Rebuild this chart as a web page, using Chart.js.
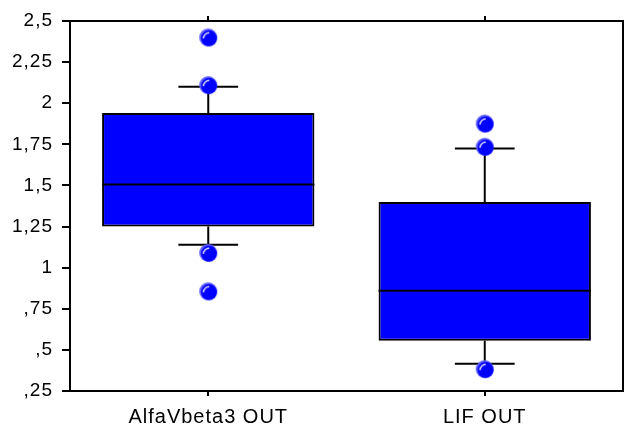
<!DOCTYPE html>
<html>
<head>
<meta charset="utf-8">
<script src="https://cdn.jsdelivr.net/npm/chart.js@4.4.1/dist/chart.umd.min.js"></script>
<style>
  html, body { margin: 0; padding: 0; background: #ffffff; }
  #wrap { width: 625px; height: 427px; }
</style>
</head>
<body>
<div id="wrap"><canvas id="chart" width="625" height="427"></canvas></div>
<script>
// Groups on the x axis
const categories = ['AlfaVbeta3 OUT', 'LIF OUT'];

// Box statistics per group
const q1 = [1.25, 0.555];
const q3 = [1.94, 1.40];
const medians = [1.505, 0.86];
const whiskerLow = [1.14, 0.415];
const whiskerHigh = [2.10, 1.725];

// Outlying observations per group
const outliersAlfa = [2.40, 2.11, 1.09, 0.856];
const outliersLif = [1.876, 1.735, 0.383];

// Y axis range and step
const yMin = 0.25;
const yMax = 2.5;
const yStep = 0.25;

const BLUE = '#0000ff';

// Shaded ball marker for the outliers
function makeBall(r) {
  const size = r * 2 + 4;
  const c = document.createElement('canvas');
  c.width = size; c.height = size;
  const g = c.getContext('2d');
  const cx = size / 2, cy = size / 2;
  g.beginPath();
  g.arc(cx, cy, r, 0, Math.PI * 2);
  g.fillStyle = '#5c5cff';
  g.fill();
  g.beginPath();
  g.arc(cx + 0.8, cy + 0.8, r - 1, 0, Math.PI * 2);
  g.fillStyle = BLUE;
  g.fill();
  g.beginPath();
  g.arc(cx + 1, cy + 1, r - 3.2, Math.PI * 1.0, Math.PI * 1.5);
  g.strokeStyle = 'rgba(255,255,255,0.9)';
  g.lineWidth = 1.4;
  g.stroke();
  return c;
}
const ball = makeBall(9);

const outlierPoints = [];
outliersAlfa.forEach(v => outlierPoints.push({ x: categories[0], y: v }));
outliersLif.forEach(v => outlierPoints.push({ x: categories[1], y: v }));

function fmtTick(v) {
  let s = (Math.round(v * 100) / 100).toString();
  if (s.startsWith('0.')) s = s.slice(1);
  return s.replace('.', ',');
}

// Whiskers, caps and median lines drawn right after the boxes
const boxExtras = {
  id: 'boxExtras',
  afterDatasetDraw(chart, args) {
    if (args.index !== 0) return;
    const ctx = chart.ctx;
    const xs = chart.scales.x, ys = chart.scales.y;
    const meta = chart.getDatasetMeta(0);
    ctx.save();
    ctx.strokeStyle = '#000';
    ctx.lineWidth = 2;
    categories.forEach((c, i) => {
      const x = xs.getPixelForValue(i);
      const bar = meta.data[i];
      const half = bar.width / 2;
      const capHalf = xs.width / categories.length * 0.108;
      const yHi = ys.getPixelForValue(whiskerHigh[i]);
      const yLo = ys.getPixelForValue(whiskerLow[i]);
      const yQ3 = ys.getPixelForValue(q3[i]);
      const yQ1 = ys.getPixelForValue(q1[i]);
      const yMed = ys.getPixelForValue(medians[i]);
      ctx.beginPath();
      ctx.moveTo(x, yQ3); ctx.lineTo(x, yHi);
      ctx.moveTo(x - capHalf, yHi); ctx.lineTo(x + capHalf, yHi);
      ctx.moveTo(x, yQ1); ctx.lineTo(x, yLo);
      ctx.moveTo(x - capHalf, yLo); ctx.lineTo(x + capHalf, yLo);
      ctx.moveTo(x - half, yMed); ctx.lineTo(x + half, yMed);
      ctx.stroke();
    });
    ctx.restore();
  },
  afterDraw(chart) {
    const a = chart.chartArea;
    const ctx = chart.ctx;
    ctx.save();
    ctx.strokeStyle = '#000';
    ctx.lineWidth = 2;
    ctx.strokeRect(a.left, a.top, a.right - a.left, a.bottom - a.top);
    ctx.restore();
  }
};

const spacing = {
  id: 'spacing',
  beforeDraw(chart) { chart.ctx.letterSpacing = '1px'; }
};

new Chart(document.getElementById('chart'), {
  type: 'bar',
  data: {
    labels: categories,
    datasets: [
      {
        type: 'bar',
        data: categories.map((c, i) => [q1[i], q3[i]]),
        backgroundColor: BLUE,
        borderColor: '#000',
        borderWidth: 2,
        borderSkipped: false,
        barPercentage: 0.768,
        categoryPercentage: 1,
        order: 2
      },
      {
        type: 'line',
        data: outlierPoints,
        showLine: false,
        pointStyle: ball,
        pointRadius: 9,
        order: 1
      }
    ]
  },
  options: {
    responsive: false,
    animation: false,
    events: [],
    layout: { autoPadding: false, padding: { top: 0, right: 2, left: 0, bottom: 0 } },
    plugins: { legend: { display: false }, tooltip: { enabled: false } },
    scales: {
      x: {
        position: 'bottom',
        offset: true,
        grid: { display: true, drawOnChartArea: false, offset: false, tickLength: 5, color: '#000', lineWidth: 2 },
        border: { display: true, color: '#000', width: 2 },
        ticks: { color: '#000', padding: 9, font: { family: 'Liberation Sans, Arial, sans-serif', size: 20 } },
        afterFit(s) { s.height = 36; s.paddingLeft = 0; s.paddingRight = 0; }
      },
      xTop: {
        type: 'category',
        position: 'top',
        offset: true,
        grid: { display: true, drawOnChartArea: false, offset: false, tickLength: 5, color: '#000', lineWidth: 2 },
        border: { display: false },
        ticks: { display: false },
        afterFit(s) { s.height = 21; s.paddingLeft = 0; s.paddingRight = 0; }
      },
      y: {
        min: yMin,
        max: yMax,
        grid: { display: true, drawOnChartArea: false, tickLength: 8, color: '#000', lineWidth: 2 },
        border: { display: true, color: '#000', width: 2 },
        ticks: {
          stepSize: yStep,
          color: '#000',
          padding: 9,
          font: { family: 'Liberation Sans, Arial, sans-serif', size: 19 },
          callback: v => fmtTick(v)
        },
        afterFit(s) { s.width = 70; }
      }
    }
  },
  plugins: [spacing, boxExtras]
});
</script>
</body>
</html>
